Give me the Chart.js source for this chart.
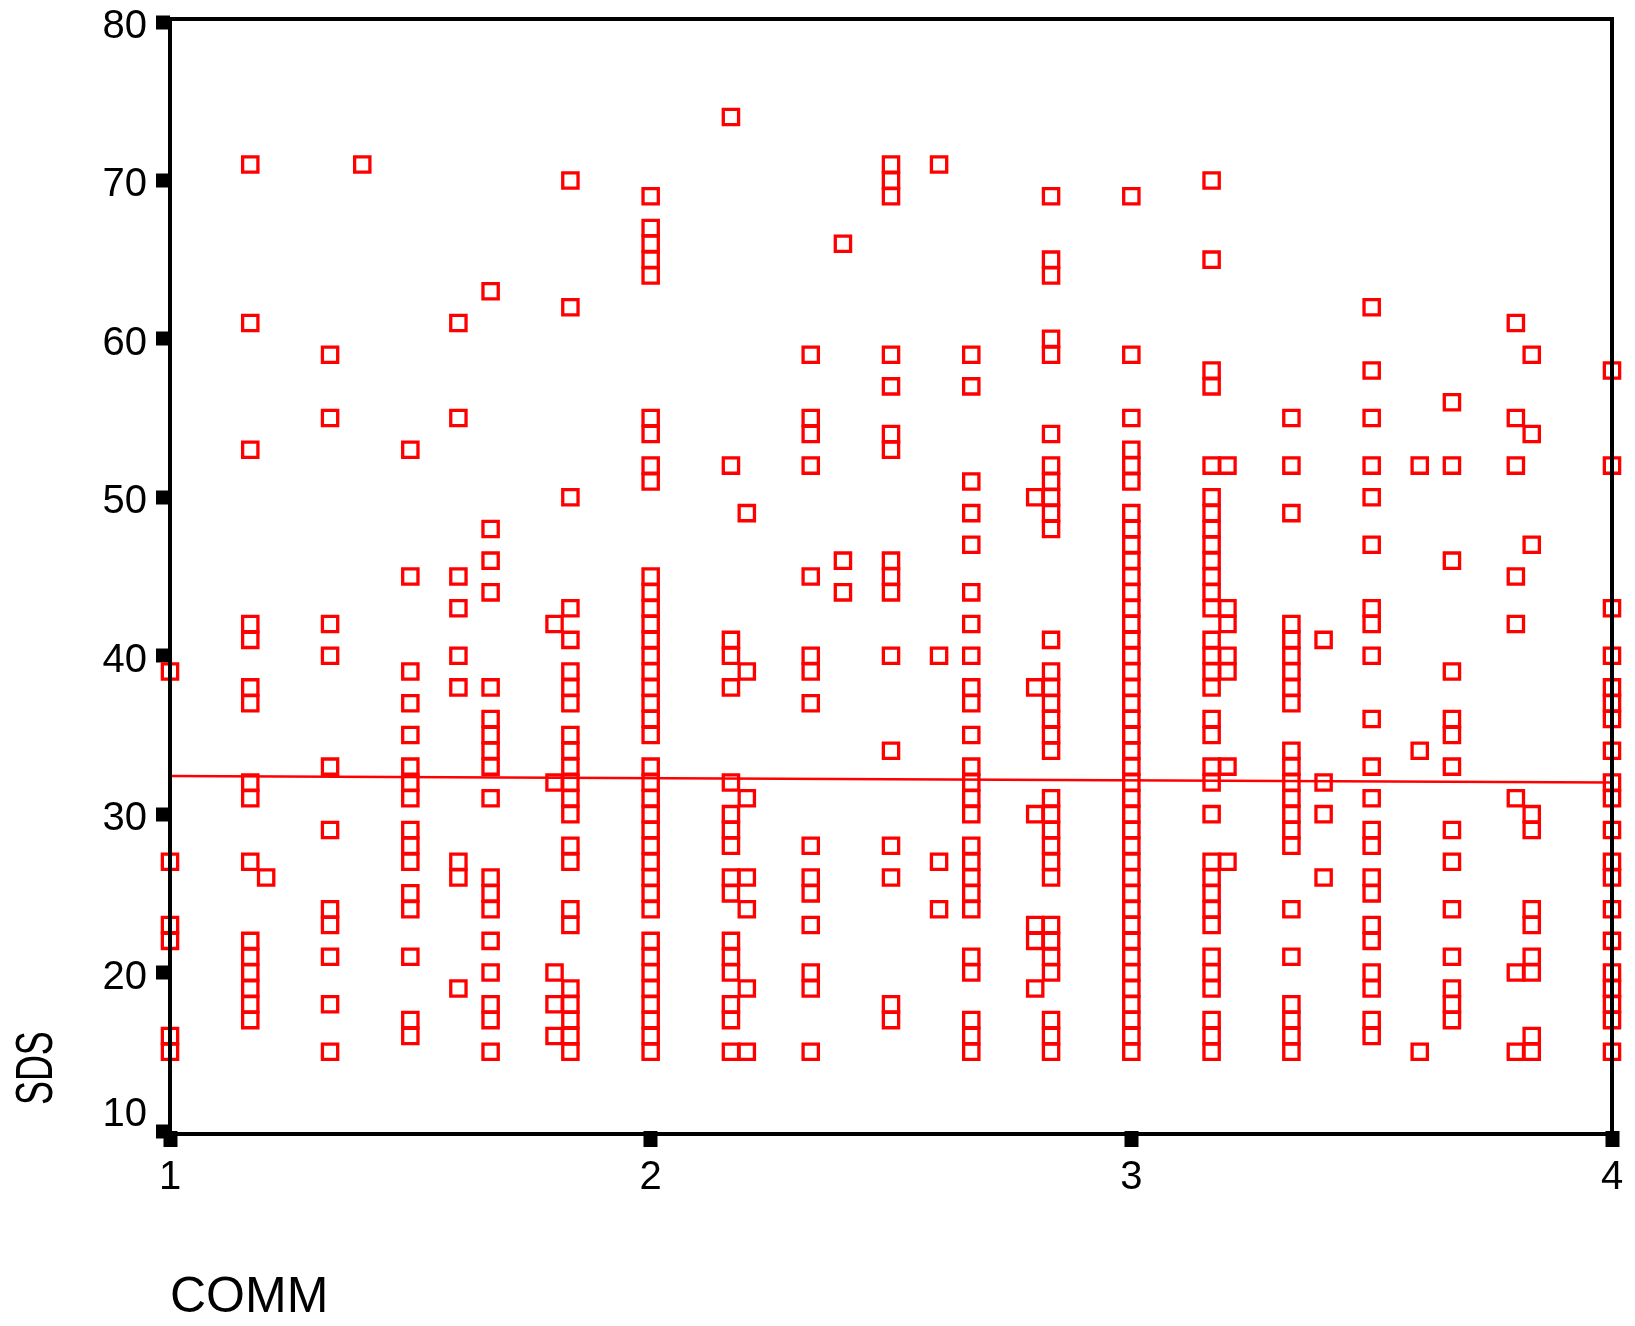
<!DOCTYPE html>
<html>
<head>
<meta charset="utf-8">
<title>SDS by COMM</title>
<script src="https://cdn.jsdelivr.net/npm/chart.js@4.4.1/dist/chart.umd.min.js"></script>
<style>
  html, body { margin: 0; padding: 0; background: #fff; overflow: hidden; }
  #wrap { width: 1635px; height: 1326px; position: relative; }
</style>
</head>
<body>
<div id="wrap"><canvas id="scatter"></canvas></div>
<script>
// COMM levels where the points stack up
const commLevels = [1, 1.167, 1.2, 1.333, 1.4, 1.5, 1.6, 1.667, 1.8, 1.833,
                    2, 2.167, 2.2, 2.333, 2.4, 2.5, 2.6, 2.667, 2.8, 2.833,
                    3, 3.167, 3.2, 3.333, 3.4, 3.5, 3.6, 3.667, 3.8, 3.833, 4];

// SDS scores observed at each COMM level (same order as commLevels)
const sdsAtComm = [
  [39, 27, 23, 22, 16, 15],
  [71, 61, 53, 42, 41, 38, 37, 32, 31, 27, 22, 21, 20, 19, 18, 17],
  [26],
  [59, 55, 42, 40, 33, 29, 24, 23, 21, 18, 15],
  [71],
  [53, 45, 39, 37, 35, 33, 32, 31, 29, 28, 27, 25, 24, 21, 17, 16],
  [61, 55, 45, 43, 40, 38, 27, 26, 19],
  [63, 48, 46, 44, 38, 36, 35, 34, 33, 31, 26, 25, 24, 22, 20, 18, 17, 15],
  [42, 32, 20, 18, 16],
  [70, 62, 50, 43, 41, 39, 38, 37, 35, 34, 33, 32, 31, 30, 28, 27, 24, 23, 19, 18, 17, 16, 15],
  [69, 67, 66, 65, 64, 55, 54, 52, 51, 45, 44, 43, 42, 41, 40, 39, 38, 37, 36, 35, 33, 32, 31,
   30, 29, 28, 27, 26, 25, 24, 22, 21, 20, 19, 18, 17, 16, 15],
  [74, 52, 41, 40, 38, 32, 30, 29, 28, 26, 25, 22, 21, 20, 18, 17, 15],
  [49, 39, 31, 26, 24, 19, 15],
  [59, 55, 54, 52, 45, 40, 39, 37, 28, 26, 25, 23, 20, 19, 15],
  [66, 46, 44],
  [71, 70, 69, 59, 57, 54, 53, 46, 45, 44, 40, 34, 28, 26, 18, 17],
  [71, 40, 27, 24],
  [59, 57, 51, 49, 47, 44, 42, 40, 38, 37, 35, 33, 32, 31, 30, 28, 27, 26, 25, 24, 21, 20, 17, 16, 15],
  [50, 38, 30, 23, 22, 19],
  [69, 65, 64, 60, 59, 54, 52, 51, 50, 49, 48, 41, 39, 38, 37, 36, 35, 34, 31, 30, 29, 28, 27,
   26, 23, 22, 21, 20, 17, 16, 15],
  [69, 59, 55, 53, 52, 51, 49, 48, 47, 46, 45, 44, 43, 42, 41, 40, 39, 38, 37, 36, 35, 34, 33,
   32, 31, 30, 29, 28, 27, 26, 25, 24, 23, 22, 21, 20, 19, 18, 17, 16, 15],
  [70, 65, 58, 57, 52, 50, 49, 48, 47, 46, 45, 44, 43, 41, 40, 39, 38, 36, 35, 33, 32, 30, 27,
   26, 25, 24, 23, 21, 20, 19, 17, 16, 15],
  [52, 43, 42, 40, 39, 33, 27],
  [55, 52, 49, 42, 41, 40, 39, 38, 37, 34, 33, 32, 31, 30, 29, 28, 24, 21, 18, 17, 16, 15],
  [41, 32, 30, 26],
  [62, 58, 55, 52, 50, 47, 43, 42, 40, 36, 33, 31, 29, 28, 26, 25, 23, 22, 20, 19, 17, 16],
  [52, 34, 15],
  [56, 52, 46, 39, 36, 35, 33, 29, 27, 24, 21, 19, 18, 17],
  [61, 55, 52, 45, 42, 31, 20, 15],
  [59, 54, 47, 30, 29, 24, 23, 21, 20, 16, 15],
  [58, 52, 43, 40, 38, 37, 36, 34, 32, 31, 29, 27, 26, 24, 22, 20, 19, 18, 17, 15]
];

// fit line at both ends
const fitComm = [1, 4];
const fitSds = [32.4, 32.0];

const xTicks = [1, 2, 3, 4];
const yTicks = [10, 20, 30, 40, 50, 60, 70, 80];

const points = [];
commLevels.forEach((c, i) => {
  sdsAtComm[i].forEach(v => points.push({ x: c, y: v }));
});
const fitPoints = fitComm.map((c, i) => ({ x: c, y: fitSds[i] }));

const FONT = "'Liberation Sans', Arial, sans-serif";

// box round the plot, a little outside the value range at top and bottom
const framePlugin = {
  id: 'frame',
  afterDraw(chart) {
    const { ctx, chartArea: a } = chart;
    ctx.save();
    ctx.strokeStyle = '#000';
    ctx.lineWidth = 4;
    ctx.strokeRect(a.left, a.top - 3, a.right - a.left, a.bottom - a.top + 6);
    ctx.restore();
  }
};

// the SPSS-style y title sits low and is drawn narrow
const sdsTitlePlugin = {
  id: 'sdsTitle',
  afterDraw(chart) {
    const { ctx, chartArea: a } = chart;
    ctx.save();
    ctx.translate(38, a.bottom - 26);
    ctx.rotate(-Math.PI / 2);
    ctx.scale(0.69, 1);
    ctx.font = "52px " + FONT;
    ctx.fillStyle = '#000';
    ctx.textAlign = 'left';
    ctx.textBaseline = 'middle';
    ctx.fillText('SDS', 0, 0);
    ctx.restore();
  }
};

const ctx = document.getElementById('scatter').getContext('2d');
new Chart(ctx, {
  type: 'scatter',
  data: {
    datasets: [{
      data: points,
      pointStyle: 'rect',
      pointRadius: 10.8,
      pointBorderWidth: 3.3,
      pointBorderColor: '#ff0000',
      pointBackgroundColor: 'rgba(0,0,0,0)',
      clip: false
    }, {
      data: fitPoints,
      showLine: true,
      borderColor: '#ff0000',
      borderWidth: 2.5,
      pointRadius: 0,
      clip: false
    }]
  },
  options: {
    responsive: true,
    maintainAspectRatio: false,
    animation: false,
    layout: { padding: { left: 0, top: 22, right: 23, bottom: 0 } },
    plugins: { legend: { display: false }, tooltip: { enabled: false } },
    scales: {
      x: {
        type: 'linear',
        min: 1, max: 4,
        z: 1,
        afterBuildTicks: s => { s.ticks = xTicks.map(v => ({ value: v })); },
        afterFit: s => { s.height = 195; s.paddingLeft = 0; s.paddingRight = 0; },
        ticks: { color: '#000', padding: 7, font: { family: FONT, size: 40 } },
        grid: { drawOnChartArea: false, tickLength: 16, tickWidth: 14, tickColor: '#000' },
        border: { display: false },
        title: {
          display: true, text: 'COMM', align: 'start', color: '#000',
          font: { family: FONT, size: 50, lineHeight: 1 },
          padding: { top: 0, bottom: 3 }
        }
      },
      y: {
        type: 'linear',
        min: 10, max: 80,
        z: 1,
        afterBuildTicks: s => { s.ticks = yTicks.map(v => ({ value: v })); },
        afterFit: s => { s.width = 170; s.paddingTop = 0; s.paddingBottom = 0; },
        ticks: {
          color: '#000', padding: 9, labelOffset: 5,
          font: { family: FONT, size: 40, lineHeight: 1.05 },
          callback: v => (v === 10 ? ['10', ''] : String(v))
        },
        grid: { drawOnChartArea: false, tickLength: 14, tickWidth: 14, tickColor: '#000' },
        border: { display: false },
        title: { display: false }
      }
    }
  },
  plugins: [framePlugin, sdsTitlePlugin]
});
</script>
</body>
</html>
